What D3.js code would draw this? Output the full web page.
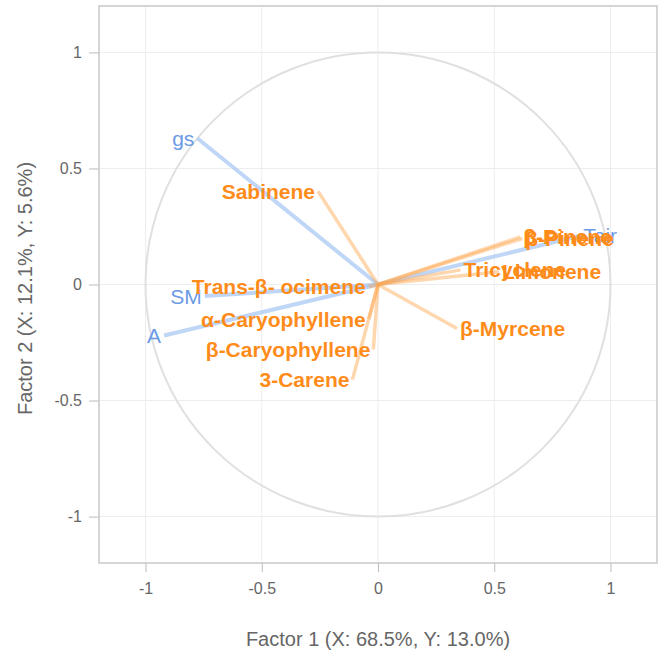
<!DOCTYPE html>
<html>
<head>
<meta charset="utf-8">
<script src="https://cdn.jsdelivr.net/npm/d3@7"></script>
<style>
  body { margin: 0; background: #fff; }
  text { font-family: "Liberation Sans", Arial, sans-serif; }
</style>
</head>
<body>
<svg id="chart" width="667" height="657"></svg>
<script>
// correlation circle: X variables (blue) and Y variables (orange)
const xNames = ["gs", "SM", "A", "Tair"];
const xF1 = [-0.777, -0.745, -0.92, 0.87];
const xF2 = [0.63, -0.05, -0.22, 0.21];

const yNames = ["Sabinene", "Trans-β- ocimene", "α-Caryophyllene", "β-Caryophyllene",
  "3-Carene", "β-Myrcene", "β-Pinene", "β-Pinene", "Tricyclene", "Limonene"];
const yF1 = [-0.258, -0.04, -0.04, -0.02, -0.11, 0.34, 0.612, 0.62, 0.355, 0.52];
const yF2 = [0.402, -0.01, -0.15, -0.28, -0.41, -0.19, 0.205, 0.198, 0.063, 0.055];

const ticks = [-1, -0.5, 0, 0.5, 1];
const xTitle = "Factor 1 (X: 68.5%, Y: 13.0%)";
const yTitle = "Factor 2 (X: 12.1%, Y: 5.6%)";

const svg = d3.select("#chart");
const pLeft = 99, pRight = 657, pTop = 6, pBottom = 563;

const x = d3.scaleLinear().domain([-1.2, 1.2]).range([pLeft, pRight]);
const y = d3.scaleLinear().domain([-1.2, 1.2]).range([pBottom, pTop]);

// grid
svg.append("g").selectAll("line").data(ticks).join("line")
  .attr("x1", d => x(d)).attr("x2", d => x(d))
  .attr("y1", pTop).attr("y2", pBottom)
  .attr("stroke", "#ededed").attr("stroke-width", 1);
svg.append("g").selectAll("line").data(ticks).join("line")
  .attr("y1", d => y(d)).attr("y2", d => y(d))
  .attr("x1", pLeft).attr("x2", pRight)
  .attr("stroke", "#ededed").attr("stroke-width", 1);

// axes (plain hyphen for negatives, like the original)
const fmt = d => String(d);
const xAxis = svg.append("g")
  .attr("transform", `translate(0,${pBottom})`)
  .call(d3.axisBottom(x).tickValues(ticks).tickFormat(fmt).tickSize(9).tickPadding(11));
const yAxis = svg.append("g")
  .attr("transform", `translate(${pLeft},0)`)
  .call(d3.axisLeft(y).tickValues(ticks).tickFormat(fmt).tickSize(10).tickPadding(7));
[xAxis, yAxis].forEach(a => {
  a.select(".domain").remove();
  a.selectAll(".tick line").attr("stroke", "#bbb");
  a.selectAll(".tick text").attr("fill", "#666").style("font-size", "16px")
    .style("font-family", "Liberation Sans, Arial, sans-serif");
});

// panel border
svg.append("rect")
  .attr("x", pLeft).attr("y", pTop)
  .attr("width", pRight - pLeft).attr("height", pBottom - pTop)
  .attr("fill", "none").attr("stroke", "#c8c8c8").attr("stroke-width", 1.5);

// unit circle
svg.append("ellipse")
  .attr("cx", x(0)).attr("cy", y(0))
  .attr("rx", x(1) - x(0)).attr("ry", y(0) - y(1))
  .attr("fill", "none").attr("stroke", "#e0e0e0").attr("stroke-width", 2);

const xVars = xNames.map((n, i) => ({name: n, f1: xF1[i], f2: xF2[i]}));
const yVars = yNames.map((n, i) => ({name: n, f1: yF1[i], f2: yF2[i]}));

svg.append("g").selectAll("line").data(xVars).join("line")
  .attr("x1", x(0)).attr("y1", y(0))
  .attr("x2", d => x(d.f1)).attr("y2", d => y(d.f2))
  .attr("stroke", "#a9c8f3").attr("stroke-opacity", 0.75).attr("stroke-width", 4);

svg.append("g").selectAll("line").data(yVars).join("line")
  .attr("x1", x(0)).attr("y1", y(0))
  .attr("x2", d => x(d.f1)).attr("y2", d => y(d.f2))
  .attr("stroke", "#ffa64d").attr("stroke-opacity", 0.45).attr("stroke-width", 3.5);

function labels(data, color, weight) {
  svg.append("g").selectAll("text").data(data).join("text")
    .attr("x", d => x(d.f1) + (d.f1 < 0 ? -3 : 3))
    .attr("y", d => y(d.f2))
    .attr("dy", "0.36em")
    .attr("text-anchor", d => d.f1 < 0 ? "end" : "start")
    .attr("fill", color)
    .style("font-size", "21px")
    .style("font-weight", weight)
    .text(d => d.name);
}
labels(xVars, "#6b9be6", "normal");
labels(yVars, "#ff8c1a", "bold");

// axis titles
svg.append("text")
  .attr("x", x(0)).attr("y", 646)
  .attr("text-anchor", "middle").attr("fill", "#666")
  .style("font-size", "20px").text(xTitle);
svg.append("text")
  .attr("transform", `translate(32,${(pTop + pBottom) / 2 + 4}) rotate(-90)`)
  .attr("text-anchor", "middle").attr("fill", "#666")
  .style("font-size", "20px").text(yTitle);
</script>
</body>
</html>
